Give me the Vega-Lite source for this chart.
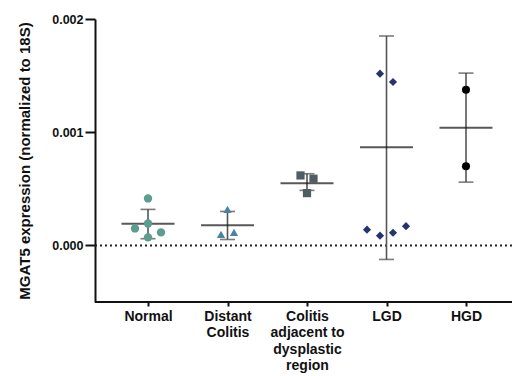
{
  "$schema": "https://vega.github.io/schema/vega-lite/v6.json",
  "autosize": {"type": "none"},
  "width": 417,
  "height": 283,
  "padding": {"left": 95, "top": 19, "right": 0, "bottom": 74},
  "background": "white",
  "config": {
    "view": {"stroke": null},
    "font": "Liberation Sans"
  },
  "datasets": {
    "points": [
      {"group": "Normal", "value": 0.000415, "jitter": 0},
      {"group": "Normal", "value": 0.000194, "jitter": 0},
      {"group": "Normal", "value": 0.000150, "jitter": -2},
      {"group": "Normal", "value": 0.000071, "jitter": 0},
      {"group": "Normal", "value": 0.000115, "jitter": 2},
      {"group": "Distant Colitis", "value": 0.000318, "jitter": 0},
      {"group": "Distant Colitis", "value": 0.000097, "jitter": -1},
      {"group": "Distant Colitis", "value": 0.000115, "jitter": 1},
      {"group": "Colitis adjacent to dysplastic region", "value": 0.000618, "jitter": -1},
      {"group": "Colitis adjacent to dysplastic region", "value": 0.000589, "jitter": 1},
      {"group": "Colitis adjacent to dysplastic region", "value": 0.000462, "jitter": 0},
      {"group": "LGD", "value": 0.001517, "jitter": -1},
      {"group": "LGD", "value": 0.001443, "jitter": 1},
      {"group": "LGD", "value": 0.000139, "jitter": -3},
      {"group": "LGD", "value": 0.000086, "jitter": -1},
      {"group": "LGD", "value": 0.000112, "jitter": 1},
      {"group": "LGD", "value": 0.000170, "jitter": 3},
      {"group": "HGD", "value": 0.001375, "jitter": 0},
      {"group": "HGD", "value": 0.000700, "jitter": 0}
    ],
    "summary": [
      {"group": "Normal", "mean": 0.000192, "lo": 0.000059, "hi": 0.000318},
      {"group": "Distant Colitis", "mean": 0.000177, "lo": 0.000052, "hi": 0.000300},
      {"group": "Colitis adjacent to dysplastic region", "mean": 0.000550, "lo": 0.000486, "hi": 0.000633},
      {"group": "LGD", "mean": 0.000866, "lo": -0.000124, "hi": 0.001850},
      {"group": "HGD", "mean": 0.001040, "lo": 0.000559, "hi": 0.001522}
    ],
    "lines": [{"y": 0, "kind": "zero"}, {"y": -0.0005, "kind": "base"}]
  },
  "encoding": {
    "x": {
      "field": "group", "type": "nominal",
      "scale": {"type": "point", "padding": 0, "domain": ["Normal", "Distant Colitis", "Colitis adjacent to dysplastic region", "LGD", "HGD"], "range": [53, 371]},
      "axis": {
        "title": null, "labelAngle": 0, "labelFont": "Liberation Sans", "labelFontWeight": "bold", "labelFontSize": 14,
        "labelColor": "#111", "labelLineHeight": 16.5, "labelPadding": 3, "tickSize": 4, "tickWidth": 2, "tickColor": "#111",
        "domain": false, "labelBaseline": "top",
        "labelExpr": "datum.value == 'Distant Colitis' ? ['Distant', 'Colitis'] : datum.value == 'Colitis adjacent to dysplastic region' ? ['Colitis', 'adjacent to', 'dysplastic', 'region'] : datum.value"
      }
    },
    "y": {
      "type": "quantitative",
      "scale": {"domain": [-0.0005, 0.002], "nice": false, "zero": false},
      "axis": {
        "title": "MGAT5 expression (normalized to 18S)", "values": [0, 0.001, 0.002], "format": ".3f",
        "titleFont": "Liberation Sans", "titleFontWeight": "bold", "titleFontSize": 15, "titleColor": "#111", "titlePadding": 19,
        "labelFont": "Liberation Sans", "labelFontWeight": "bold", "labelFontSize": 12.5, "labelColor": "#111", "labelPadding": 2,
        "tickSize": 10, "tickWidth": 2, "tickColor": "#111", "domainColor": "#111", "domainWidth": 2, "grid": false
      }
    }
  },
  "layer": [
    {
      "data": {"name": "lines"},
      "transform": [{"filter": "datum.kind == 'zero'"}],
      "mark": {"type": "rule", "strokeDash": [2, 3], "strokeWidth": 2, "color": "#222"},
      "encoding": {
        "x": null,
        "y": {"field": "y", "type": "quantitative"}
      }
    },
    {
      "data": {"name": "lines"},
      "transform": [{"filter": "datum.kind == 'base'"}],
      "mark": {"type": "rule", "strokeWidth": 2, "color": "#111"},
      "encoding": {
        "x": null,
        "y": {"field": "y", "type": "quantitative"}
      }
    },
    {
      "data": {"name": "summary"},
      "mark": {"type": "rule", "color": "#555", "strokeWidth": 1.6},
      "encoding": {
        "y": {"field": "lo", "type": "quantitative"},
        "y2": {"field": "hi"}
      }
    },
    {
      "data": {"name": "summary"},
      "mark": {"type": "tick", "color": "#444", "size": 15, "thickness": 1.6},
      "encoding": {"y": {"field": "lo", "type": "quantitative"}}
    },
    {
      "data": {"name": "summary"},
      "mark": {"type": "tick", "color": "#444", "size": 15, "thickness": 1.6},
      "encoding": {"y": {"field": "hi", "type": "quantitative"}}
    },
    {
      "data": {"name": "summary"},
      "mark": {"type": "tick", "color": "#111", "size": 53, "thickness": 2},
      "encoding": {"y": {"field": "mean", "type": "quantitative"}}
    },
    {
      "data": {"name": "points"},
      "mark": {"type": "point", "filled": true, "opacity": 1},
      "encoding": {
        "xOffset": {"field": "jitter", "type": "quantitative", "scale": {"domain": [-3, 3], "range": [-19.5, 19.5]}},
        "y": {"field": "value", "type": "quantitative"},
        "shape": {"field": "group", "type": "nominal", "legend": null,
          "scale": {"domain": ["Normal", "Distant Colitis", "Colitis adjacent to dysplastic region", "LGD", "HGD"],
                    "range": ["circle", "triangle-up", "square", "diamond", "circle"]}},
        "color": {"field": "group", "type": "nominal", "legend": null,
          "scale": {"domain": ["Normal", "Distant Colitis", "Colitis adjacent to dysplastic region", "LGD", "HGD"],
                    "range": ["#5b9e8f", "#4a82a6", "#4f5d64", "#26346e", "#000000"]}},
        "size": {"field": "group", "type": "nominal", "legend": null,
          "scale": {"domain": ["Normal", "Distant Colitis", "Colitis adjacent to dysplastic region", "LGD", "HGD"],
                    "range": [70, 65, 70, 40, 70]}}
      }
    }
  ]
}
